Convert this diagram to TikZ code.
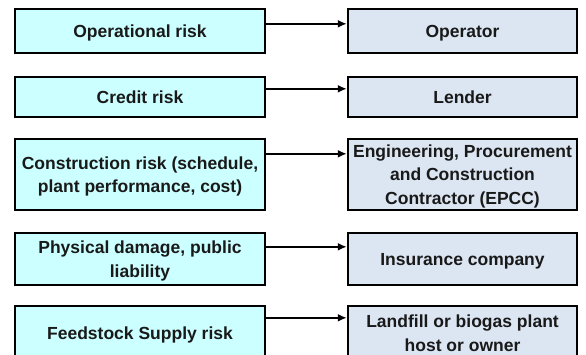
\documentclass[tikz,border=0pt]{standalone}
\usepackage{fontspec}
\setmainfont{Liberation Sans}
\usepackage{tikz}
\usetikzlibrary{arrows.meta}
\definecolor{riskfill}{RGB}{204,255,255}
\definecolor{partyfill}{RGB}{220,230,242}
\tikzset{
  box/.style={draw, line width=2.4pt, align=center, inner sep=2pt, text depth=0pt,
    font=\fontsize{17.5}{23.5}\selectfont\bfseries, text=black!90},
  riskbox/.style={box, fill=riskfill, minimum width=250pt},
  partybox/.style={box, fill=partyfill, minimum width=229pt},
  arr/.style={line width=1.8pt, -{Latex[length=9pt,width=8pt]}}
}

\begin{document}
\begin{tikzpicture}[x=1pt, y=-1pt]
    \useasboundingbox (0,0) rectangle (586,354);
    \clip (0,0) rectangle (586,354);
    % row 1
    \node[riskbox, minimum height=44pt] (oprisk) at (140,31) {Operational risk};
    \node[partybox, minimum height=44pt] (operator) at (462.5,31) {Operator};
    % row 2
    \node[riskbox, minimum height=40pt] (credit) at (140,97) {Credit risk};
    \node[partybox, minimum height=40pt] (lender) at (462.5,97) {Lender};
    % row 3
    \node[riskbox, minimum height=71pt] (constr) at (140,174.5) {Construction risk (schedule,\\plant performance, cost)};
    \node[partybox, minimum height=71pt, inner sep=0pt] (epcc) at (462.5,174.5) {Engineering, Procurement\\and Construction\\Contractor (EPCC)};
    % row 4
    \node[riskbox, minimum height=52pt] (damage) at (140,259) {Physical damage, public\\liability};
    \node[partybox, minimum height=52pt] (insurer) at (462.5,259) {Insurance company};
    % row 5
    \node[riskbox, minimum height=54pt] (feed) at (140,333) {Feedstock Supply risk};
    \node[partybox, minimum height=54pt] (host) at (462.5,333) {Landfill or biogas plant\\host or owner};
    % arrows
    \draw[arr] ([yshift=-16pt]oprisk.north east) -- ([yshift=-16pt]operator.north west);
    \draw[arr] ([yshift=-13pt]credit.north east) -- ([yshift=-13pt]lender.north west);
    \draw[arr] ([yshift=-16pt]constr.north east) -- ([yshift=-16pt]epcc.north west);
    \draw[arr] ([yshift=-15pt]damage.north east) -- ([yshift=-15pt]insurer.north west);
    \draw[arr] ([yshift=-13pt]feed.north east) -- ([yshift=-13pt]host.north west);
\end{tikzpicture}
\end{document}
